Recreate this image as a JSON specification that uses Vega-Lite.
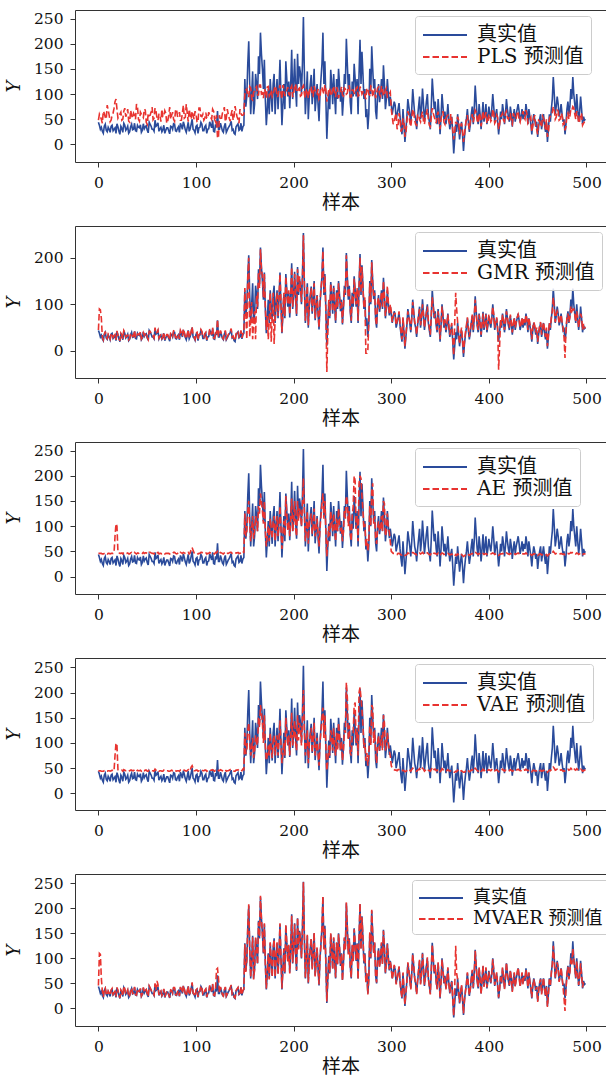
{
"$schema": "https://vega.github.io/schema/vega-lite/v6.json",
"background": "white",
"padding": {"left": 5, "top": 10, "right": 0, "bottom": 0},
"spacing": 64,
"bounds": "flush",
"resolve": {"scale": {"color": "independent", "strokeDash": "independent"}, "legend": {"color": "independent", "strokeDash": "independent"}},
"config": {
  "view": {"stroke": null},
  "axis": {"grid": false, "domainColor": "#333333", "tickColor": "#333333", "tickSize": 5, "labelFont": "DejaVu Serif", "labelFontSize": 15.5, "labelColor": "#111111", "labelPadding": 7, "titleColor": "#111111", "titleFontWeight": "normal"},
  "axisX": {"titleFont": "Noto Sans CJK SC", "titleFontSize": 19, "titlePadding": 3, "labelPadding": 8},
  "axisY": {"titleFont": "DejaVu Serif", "titleFontStyle": "italic", "titleFontSize": 18, "titlePadding": 10},
  "legend": {"orient": "none", "labelFont": "DejaVu Serif, Noto Sans CJK SC", "labelFontSize": 20, "labelColor": "#111111", "symbolType": "M-1,0H3", "symbolStrokeWidth": 2, "symbolSize": 484, "fillColor": "rgba(255,255,255,0.85)", "strokeColor": "#cccccc", "cornerRadius": 3, "padding": 7, "rowPadding": 0, "labelOffset": 31, "labelLimit": 400}
},
"datasets": {"d": [
{"x":0,"t":44,"p":48,"g":45,"a":46,"v":44,"m":46},
{"x":1,"t":38,"p":60,"g":90,"a":46,"v":45,"m":110},
{"x":2,"t":30,"p":55,"g":88,"a":46,"v":45,"m":108},
{"x":3,"t":34,"p":50,"g":70,"a":46,"v":44,"m":60},
{"x":4,"t":26,"p":42,"g":30,"a":45,"v":44,"m":35},
{"x":5,"t":22,"p":66,"g":24,"a":45,"v":44,"m":23},
{"x":6,"t":36,"p":62,"g":34,"a":46,"v":45,"m":38},
{"x":7,"t":40,"p":54,"g":42,"a":47,"v":46,"m":41},
{"x":8,"t":28,"p":50,"g":31,"a":47,"v":44,"m":30},
{"x":9,"t":25,"p":78,"g":27,"a":45,"v":44,"m":26},
{"x":10,"t":34,"p":68,"g":36,"a":46,"v":45,"m":35},
{"x":11,"t":30,"p":58,"g":32,"a":46,"v":45,"m":31},
{"x":12,"t":24,"p":45,"g":26,"a":45,"v":44,"m":26},
{"x":13,"t":36,"p":48,"g":38,"a":46,"v":45,"m":37},
{"x":14,"t":38,"p":58,"g":36,"a":46,"v":46,"m":40},
{"x":15,"t":27,"p":62,"g":29,"a":46,"v":44,"m":28},
{"x":16,"t":30,"p":72,"g":32,"a":47,"v":45,"m":31},
{"x":17,"t":33,"p":85,"g":35,"a":80,"v":75,"m":34},
{"x":18,"t":22,"p":90,"g":24,"a":105,"v":100,"m":24},
{"x":19,"t":41,"p":70,"g":43,"a":100,"v":95,"m":42},
{"x":20,"t":35,"p":52,"g":33,"a":48,"v":47,"m":36},
{"x":21,"t":26,"p":56,"g":28,"a":47,"v":46,"m":27},
{"x":22,"t":20,"p":60,"g":22,"a":46,"v":45,"m":21},
{"x":23,"t":36,"p":64,"g":38,"a":46,"v":45,"m":37},
{"x":24,"t":32,"p":48,"g":34,"a":47,"v":46,"m":33},
{"x":25,"t":24,"p":50,"g":26,"a":45,"v":44,"m":25},
{"x":26,"t":42,"p":66,"g":44,"a":48,"v":47,"m":45},
{"x":27,"t":38,"p":72,"g":40,"a":47,"v":46,"m":39},
{"x":28,"t":28,"p":55,"g":30,"a":46,"v":45,"m":29},
{"x":29,"t":31,"p":60,"g":33,"a":46,"v":45,"m":32},
{"x":30,"t":36,"p":70,"g":34,"a":47,"v":46,"m":37},
{"x":31,"t":22,"p":46,"g":24,"a":45,"v":44,"m":23},
{"x":32,"t":25,"p":44,"g":27,"a":45,"v":45,"m":26},
{"x":33,"t":35,"p":68,"g":37,"a":47,"v":46,"m":36},
{"x":34,"t":40,"p":58,"g":38,"a":48,"v":46,"m":41},
{"x":35,"t":29,"p":52,"g":31,"a":46,"v":45,"m":30},
{"x":36,"t":30,"p":62,"g":32,"a":46,"v":45,"m":31},
{"x":37,"t":42,"p":58,"g":44,"a":48,"v":47,"m":43},
{"x":38,"t":27,"p":50,"g":29,"a":46,"v":44,"m":28},
{"x":39,"t":26,"p":80,"g":28,"a":45,"v":44,"m":27},
{"x":40,"t":38,"p":75,"g":36,"a":47,"v":46,"m":39},
{"x":41,"t":34,"p":50,"g":36,"a":46,"v":45,"m":35},
{"x":42,"t":33,"p":46,"g":35,"a":47,"v":45,"m":34},
{"x":43,"t":39,"p":64,"g":41,"a":47,"v":46,"m":40},
{"x":44,"t":24,"p":60,"g":26,"a":45,"v":44,"m":25},
{"x":45,"t":28,"p":56,"g":30,"a":46,"v":45,"m":29},
{"x":46,"t":41,"p":53,"g":39,"a":48,"v":47,"m":42},
{"x":47,"t":31,"p":70,"g":33,"a":46,"v":45,"m":32},
{"x":48,"t":35,"p":68,"g":37,"a":47,"v":46,"m":36},
{"x":49,"t":37,"p":44,"g":39,"a":47,"v":46,"m":38},
{"x":50,"t":28,"p":40,"g":30,"a":46,"v":44,"m":29},
{"x":51,"t":23,"p":62,"g":25,"a":45,"v":44,"m":24},
{"x":52,"t":44,"p":57,"g":42,"a":48,"v":47,"m":45},
{"x":53,"t":40,"p":58,"g":42,"a":48,"v":47,"m":41},
{"x":54,"t":36,"p":65,"g":38,"a":47,"v":46,"m":37},
{"x":55,"t":30,"p":74,"g":32,"a":46,"v":45,"m":31},
{"x":56,"t":30,"p":49,"g":32,"a":46,"v":45,"m":31},
{"x":57,"t":26,"p":52,"g":28,"a":45,"v":44,"m":27},
{"x":58,"t":48,"p":72,"g":50,"a":49,"v":48,"m":50},
{"x":59,"t":36,"p":66,"g":38,"a":47,"v":46,"m":37},
{"x":60,"t":38,"p":52,"g":40,"a":47,"v":46,"m":55},
{"x":61,"t":43,"p":48,"g":45,"a":48,"v":47,"m":48},
{"x":62,"t":26,"p":60,"g":28,"a":45,"v":44,"m":27},
{"x":63,"t":31,"p":60,"g":33,"a":46,"v":45,"m":32},
{"x":64,"t":34,"p":45,"g":36,"a":46,"v":45,"m":35},
{"x":65,"t":25,"p":70,"g":27,"a":45,"v":44,"m":26},
{"x":66,"t":29,"p":55,"g":31,"a":46,"v":44,"m":30},
{"x":67,"t":38,"p":55,"g":40,"a":47,"v":46,"m":39},
{"x":68,"t":22,"p":67,"g":24,"a":45,"v":44,"m":23},
{"x":69,"t":28,"p":62,"g":30,"a":46,"v":45,"m":29},
{"x":70,"t":33,"p":42,"g":35,"a":46,"v":45,"m":34},
{"x":71,"t":33,"p":46,"g":35,"a":46,"v":45,"m":34},
{"x":72,"t":27,"p":58,"g":29,"a":46,"v":44,"m":28},
{"x":73,"t":21,"p":74,"g":23,"a":45,"v":44,"m":22},
{"x":74,"t":36,"p":50,"g":38,"a":47,"v":45,"m":37},
{"x":75,"t":35,"p":58,"g":37,"a":47,"v":46,"m":36},
{"x":76,"t":30,"p":64,"g":32,"a":46,"v":45,"m":31},
{"x":77,"t":41,"p":50,"g":43,"a":48,"v":47,"m":42},
{"x":78,"t":40,"p":46,"g":42,"a":48,"v":46,"m":42},
{"x":79,"t":27,"p":68,"g":29,"a":46,"v":45,"m":28},
{"x":80,"t":26,"p":70,"g":28,"a":45,"v":44,"m":27},
{"x":81,"t":32,"p":56,"g":34,"a":46,"v":45,"m":33},
{"x":82,"t":35,"p":55,"g":37,"a":47,"v":45,"m":36},
{"x":83,"t":24,"p":64,"g":26,"a":45,"v":44,"m":25},
{"x":84,"t":42,"p":48,"g":44,"a":48,"v":46,"m":43},
{"x":85,"t":37,"p":48,"g":39,"a":47,"v":46,"m":38},
{"x":86,"t":30,"p":62,"g":32,"a":46,"v":45,"m":31},
{"x":87,"t":45,"p":78,"g":47,"a":48,"v":47,"m":46},
{"x":88,"t":38,"p":52,"g":40,"a":47,"v":46,"m":39},
{"x":89,"t":29,"p":54,"g":31,"a":46,"v":45,"m":30},
{"x":90,"t":24,"p":80,"g":26,"a":45,"v":44,"m":25},
{"x":91,"t":34,"p":62,"g":36,"a":46,"v":45,"m":35},
{"x":92,"t":44,"p":45,"g":46,"a":48,"v":47,"m":45},
{"x":93,"t":26,"p":70,"g":28,"a":45,"v":44,"m":27},
{"x":94,"t":31,"p":58,"g":33,"a":47,"v":46,"m":32},
{"x":95,"t":40,"p":50,"g":42,"a":55,"v":52,"m":41},
{"x":96,"t":50,"p":66,"g":52,"a":58,"v":55,"m":52},
{"x":97,"t":30,"p":58,"g":32,"a":52,"v":50,"m":31},
{"x":98,"t":28,"p":50,"g":30,"a":47,"v":45,"m":29},
{"x":99,"t":23,"p":66,"g":25,"a":46,"v":45,"m":24},
{"x":100,"t":36,"p":60,"g":38,"a":47,"v":46,"m":37},
{"x":101,"t":38,"p":45,"g":40,"a":47,"v":46,"m":39},
{"x":102,"t":22,"p":44,"g":24,"a":45,"v":44,"m":23},
{"x":103,"t":33,"p":72,"g":35,"a":46,"v":45,"m":34},
{"x":104,"t":34,"p":72,"g":36,"a":46,"v":45,"m":35},
{"x":105,"t":44,"p":56,"g":46,"a":48,"v":47,"m":45},
{"x":106,"t":40,"p":55,"g":42,"a":48,"v":46,"m":41},
{"x":107,"t":27,"p":60,"g":29,"a":46,"v":45,"m":28},
{"x":108,"t":27,"p":48,"g":29,"a":46,"v":45,"m":28},
{"x":109,"t":35,"p":52,"g":37,"a":47,"v":46,"m":36},
{"x":110,"t":38,"p":63,"g":40,"a":47,"v":46,"m":39},
{"x":111,"t":22,"p":52,"g":24,"a":45,"v":44,"m":23},
{"x":112,"t":30,"p":52,"g":32,"a":46,"v":45,"m":31},
{"x":113,"t":31,"p":64,"g":33,"a":46,"v":45,"m":32},
{"x":114,"t":45,"p":58,"g":47,"a":48,"v":47,"m":46},
{"x":115,"t":39,"p":54,"g":41,"a":47,"v":46,"m":40},
{"x":116,"t":33,"p":50,"g":35,"a":47,"v":46,"m":34},
{"x":117,"t":48,"p":70,"g":50,"a":48,"v":47,"m":49},
{"x":118,"t":26,"p":66,"g":28,"a":46,"v":45,"m":27},
{"x":119,"t":25,"p":50,"g":27,"a":45,"v":44,"m":26},
{"x":120,"t":40,"p":45,"g":42,"a":48,"v":46,"m":41},
{"x":121,"t":34,"p":58,"g":36,"a":47,"v":46,"m":78},
{"x":122,"t":66,"p":12,"g":68,"a":50,"v":48,"m":80},
{"x":123,"t":30,"p":15,"g":32,"a":46,"v":45,"m":60},
{"x":124,"t":30,"p":58,"g":32,"a":46,"v":45,"m":31},
{"x":125,"t":42,"p":48,"g":44,"a":48,"v":47,"m":43},
{"x":126,"t":35,"p":50,"g":37,"a":47,"v":46,"m":36},
{"x":127,"t":27,"p":62,"g":29,"a":46,"v":45,"m":28},
{"x":128,"t":24,"p":66,"g":26,"a":45,"v":44,"m":25},
{"x":129,"t":36,"p":74,"g":38,"a":47,"v":46,"m":37},
{"x":130,"t":42,"p":45,"g":44,"a":48,"v":47,"m":43},
{"x":131,"t":24,"p":52,"g":26,"a":45,"v":44,"m":25},
{"x":132,"t":28,"p":70,"g":30,"a":46,"v":45,"m":29},
{"x":133,"t":33,"p":60,"g":35,"a":46,"v":45,"m":34},
{"x":134,"t":36,"p":52,"g":38,"a":47,"v":46,"m":37},
{"x":135,"t":40,"p":46,"g":42,"a":48,"v":47,"m":41},
{"x":136,"t":46,"p":60,"g":48,"a":48,"v":47,"m":47},
{"x":137,"t":28,"p":68,"g":30,"a":46,"v":45,"m":29},
{"x":138,"t":30,"p":48,"g":32,"a":46,"v":45,"m":31},
{"x":139,"t":22,"p":56,"g":24,"a":45,"v":44,"m":23},
{"x":140,"t":20,"p":76,"g":22,"a":45,"v":44,"m":21},
{"x":141,"t":35,"p":64,"g":37,"a":47,"v":46,"m":36},
{"x":142,"t":38,"p":55,"g":40,"a":47,"v":46,"m":39},
{"x":143,"t":41,"p":50,"g":43,"a":48,"v":47,"m":42},
{"x":144,"t":28,"p":42,"g":30,"a":46,"v":45,"m":29},
{"x":145,"t":30,"p":70,"g":32,"a":46,"v":45,"m":31},
{"x":146,"t":42,"p":62,"g":44,"a":48,"v":47,"m":43},
{"x":147,"t":26,"p":58,"g":28,"a":46,"v":45,"m":27},
{"x":148,"t":35,"p":58,"g":37,"a":48,"v":48,"m":36},
{"x":149,"t":38,"p":60,"g":40,"a":48,"v":47,"m":39},
{"x":150,"t":130,"p":100,"g":135,"a":125,"v":120,"m":128},
{"x":151,"t":75,"p":108,"g":80,"a":80,"v":78,"m":73},
{"x":152,"t":95,"p":110,"g":25,"a":90,"v":85,"m":98},
{"x":153,"t":160,"p":95,"g":155,"a":130,"v":125,"m":162},
{"x":154,"t":205,"p":95,"g":200,"a":150,"v":140,"m":208},
{"x":155,"t":120,"p":115,"g":30,"a":105,"v":100,"m":118},
{"x":156,"t":60,"p":112,"g":65,"a":70,"v":75,"m":62},
{"x":157,"t":100,"p":90,"g":105,"a":95,"v":90,"m":102},
{"x":158,"t":145,"p":88,"g":25,"a":120,"v":110,"m":142},
{"x":159,"t":60,"p":104,"g":65,"a":75,"v":70,"m":58},
{"x":160,"t":80,"p":105,"g":85,"a":90,"v":85,"m":78},
{"x":161,"t":140,"p":112,"g":25,"a":120,"v":115,"m":142},
{"x":162,"t":120,"p":115,"g":120,"a":110,"v":100,"m":118},
{"x":163,"t":90,"p":98,"g":95,"a":90,"v":95,"m":88},
{"x":164,"t":175,"p":98,"g":170,"a":140,"v":150,"m":172},
{"x":165,"t":140,"p":118,"g":135,"a":125,"v":130,"m":142},
{"x":166,"t":222,"p":118,"g":218,"a":165,"v":175,"m":225},
{"x":167,"t":180,"p":100,"g":175,"a":150,"v":160,"m":178},
{"x":168,"t":150,"p":102,"g":160,"a":130,"v":140,"m":148},
{"x":169,"t":110,"p":92,"g":115,"a":105,"v":100,"m":112},
{"x":170,"t":168,"p":110,"g":165,"a":150,"v":155,"m":170},
{"x":171,"t":90,"p":106,"g":95,"a":90,"v":95,"m":88},
{"x":172,"t":38,"p":92,"g":45,"a":60,"v":65,"m":40},
{"x":173,"t":70,"p":114,"g":75,"a":80,"v":75,"m":72},
{"x":174,"t":110,"p":115,"g":25,"a":100,"v":95,"m":108},
{"x":175,"t":60,"p":96,"g":65,"a":70,"v":75,"m":58},
{"x":176,"t":130,"p":100,"g":125,"a":115,"v":120,"m":132},
{"x":177,"t":95,"p":108,"g":20,"a":95,"v":90,"m":97},
{"x":178,"t":65,"p":95,"g":70,"a":75,"v":70,"m":63},
{"x":179,"t":120,"p":100,"g":125,"a":110,"v":105,"m":118},
{"x":180,"t":140,"p":108,"g":15,"a":120,"v":115,"m":138},
{"x":181,"t":60,"p":116,"g":65,"a":70,"v":75,"m":62},
{"x":182,"t":100,"p":112,"g":105,"a":95,"v":100,"m":102},
{"x":183,"t":130,"p":94,"g":125,"a":120,"v":115,"m":132},
{"x":184,"t":70,"p":96,"g":75,"a":80,"v":75,"m":68},
{"x":185,"t":110,"p":110,"g":115,"a":100,"v":105,"m":108},
{"x":186,"t":168,"p":118,"g":165,"a":140,"v":145,"m":170},
{"x":187,"t":100,"p":102,"g":105,"a":95,"v":100,"m":102},
{"x":188,"t":38,"p":90,"g":40,"a":55,"v":60,"m":40},
{"x":189,"t":80,"p":118,"g":85,"a":85,"v":80,"m":78},
{"x":190,"t":120,"p":110,"g":125,"a":110,"v":100,"m":118},
{"x":191,"t":70,"p":96,"g":75,"a":80,"v":75,"m":72},
{"x":192,"t":165,"p":104,"g":160,"a":160,"v":150,"m":168},
{"x":193,"t":130,"p":108,"g":125,"a":125,"v":120,"m":128},
{"x":194,"t":95,"p":114,"g":100,"a":90,"v":95,"m":93},
{"x":195,"t":125,"p":100,"g":130,"a":110,"v":115,"m":127},
{"x":196,"t":72,"p":98,"g":78,"a":80,"v":75,"m":70},
{"x":197,"t":120,"p":112,"g":115,"a":115,"v":110,"m":118},
{"x":198,"t":188,"p":116,"g":180,"a":155,"v":160,"m":185},
{"x":199,"t":90,"p":94,"g":95,"a":90,"v":95,"m":92},
{"x":200,"t":120,"p":102,"g":125,"a":110,"v":115,"m":122},
{"x":201,"t":170,"p":116,"g":165,"a":150,"v":145,"m":168},
{"x":202,"t":110,"p":120,"g":115,"a":95,"v":100,"m":108},
{"x":203,"t":75,"p":104,"g":80,"a":80,"v":85,"m":77},
{"x":204,"t":180,"p":105,"g":175,"a":150,"v":155,"m":182},
{"x":205,"t":120,"p":110,"g":125,"a":110,"v":105,"m":118},
{"x":206,"t":155,"p":112,"g":160,"a":135,"v":140,"m":152},
{"x":207,"t":140,"p":96,"g":135,"a":125,"v":130,"m":142},
{"x":208,"t":100,"p":98,"g":105,"a":100,"v":95,"m":102},
{"x":209,"t":160,"p":114,"g":155,"a":145,"v":150,"m":158},
{"x":210,"t":253,"p":117,"g":248,"a":195,"v":205,"m":252},
{"x":211,"t":140,"p":100,"g":145,"a":125,"v":120,"m":142},
{"x":212,"t":60,"p":92,"g":65,"a":70,"v":75,"m":62},
{"x":213,"t":100,"p":108,"g":105,"a":95,"v":100,"m":98},
{"x":214,"t":145,"p":110,"g":140,"a":130,"v":125,"m":147},
{"x":215,"t":50,"p":92,"g":55,"a":65,"v":60,"m":52},
{"x":216,"t":95,"p":104,"g":100,"a":110,"v":100,"m":93},
{"x":217,"t":120,"p":112,"g":115,"a":110,"v":115,"m":122},
{"x":218,"t":138,"p":115,"g":135,"a":125,"v":130,"m":140},
{"x":219,"t":80,"p":98,"g":85,"a":85,"v":80,"m":78},
{"x":220,"t":110,"p":96,"g":115,"a":100,"v":105,"m":108},
{"x":221,"t":150,"p":116,"g":145,"a":135,"v":140,"m":152},
{"x":222,"t":66,"p":108,"g":70,"a":80,"v":75,"m":64},
{"x":223,"t":90,"p":102,"g":95,"a":90,"v":85,"m":92},
{"x":224,"t":120,"p":100,"g":118,"a":115,"v":110,"m":122},
{"x":225,"t":80,"p":110,"g":85,"a":85,"v":80,"m":78},
{"x":226,"t":46,"p":90,"g":50,"a":60,"v":55,"m":48},
{"x":227,"t":100,"p":94,"g":105,"a":95,"v":100,"m":102},
{"x":228,"t":130,"p":112,"g":135,"a":120,"v":125,"m":128},
{"x":229,"t":160,"p":114,"g":155,"a":145,"v":150,"m":162},
{"x":230,"t":222,"p":106,"g":215,"a":165,"v":170,"m":225},
{"x":231,"t":120,"p":100,"g":125,"a":115,"v":110,"m":118},
{"x":232,"t":165,"p":118,"g":160,"a":150,"v":155,"m":162},
{"x":233,"t":90,"p":108,"g":85,"a":90,"v":95,"m":92},
{"x":234,"t":11,"p":85,"g":-45,"a":40,"v":45,"m":14},
{"x":235,"t":60,"p":96,"g":40,"a":70,"v":65,"m":58},
{"x":236,"t":105,"p":110,"g":110,"a":100,"v":95,"m":103},
{"x":237,"t":70,"p":112,"g":75,"a":80,"v":75,"m":72},
{"x":238,"t":148,"p":96,"g":145,"a":130,"v":125,"m":150},
{"x":239,"t":120,"p":100,"g":115,"a":110,"v":115,"m":118},
{"x":240,"t":80,"p":108,"g":85,"a":90,"v":85,"m":78},
{"x":241,"t":140,"p":116,"g":135,"a":125,"v":130,"m":142},
{"x":242,"t":97,"p":100,"g":100,"a":95,"v":90,"m":95},
{"x":243,"t":60,"p":94,"g":65,"a":70,"v":75,"m":62},
{"x":244,"t":130,"p":114,"g":125,"a":115,"v":120,"m":132},
{"x":245,"t":90,"p":108,"g":95,"a":90,"v":85,"m":88},
{"x":246,"t":150,"p":92,"g":145,"a":135,"v":140,"m":148},
{"x":247,"t":120,"p":102,"g":115,"a":110,"v":115,"m":122},
{"x":248,"t":85,"p":105,"g":90,"a":90,"v":85,"m":87},
{"x":249,"t":110,"p":114,"g":105,"a":100,"v":105,"m":108},
{"x":250,"t":57,"p":98,"g":60,"a":70,"v":65,"m":55},
{"x":251,"t":90,"p":96,"g":95,"a":90,"v":85,"m":92},
{"x":252,"t":140,"p":112,"g":135,"a":130,"v":125,"m":142},
{"x":253,"t":120,"p":110,"g":125,"a":115,"v":120,"m":118},
{"x":254,"t":210,"p":100,"g":205,"a":160,"v":220,"m":212},
{"x":255,"t":160,"p":102,"g":155,"a":150,"v":190,"m":162},
{"x":256,"t":110,"p":116,"g":115,"a":100,"v":105,"m":108},
{"x":257,"t":140,"p":116,"g":135,"a":130,"v":135,"m":138},
{"x":258,"t":84,"p":94,"g":90,"a":85,"v":80,"m":82},
{"x":259,"t":60,"p":94,"g":65,"a":70,"v":75,"m":62},
{"x":260,"t":125,"p":108,"g":120,"a":120,"v":115,"m":127},
{"x":261,"t":95,"p":108,"g":100,"a":140,"v":120,"m":93},
{"x":262,"t":160,"p":102,"g":155,"a":200,"v":175,"m":158},
{"x":263,"t":130,"p":100,"g":125,"a":190,"v":180,"m":132},
{"x":264,"t":95,"p":112,"g":100,"a":95,"v":100,"m":97},
{"x":265,"t":130,"p":114,"g":135,"a":120,"v":125,"m":128},
{"x":266,"t":60,"p":96,"g":65,"a":70,"v":75,"m":58},
{"x":267,"t":140,"p":98,"g":135,"a":185,"v":200,"m":142},
{"x":268,"t":208,"p":115,"g":200,"a":200,"v":210,"m":210},
{"x":269,"t":120,"p":110,"g":125,"a":195,"v":190,"m":118},
{"x":270,"t":184,"p":100,"g":180,"a":160,"v":165,"m":182},
{"x":271,"t":140,"p":104,"g":135,"a":130,"v":135,"m":142},
{"x":272,"t":90,"p":106,"g":95,"a":95,"v":90,"m":92},
{"x":273,"t":110,"p":96,"g":115,"a":105,"v":100,"m":108},
{"x":274,"t":54,"p":90,"g":-5,"a":60,"v":65,"m":52},
{"x":275,"t":70,"p":112,"g":-5,"a":75,"v":80,"m":72},
{"x":276,"t":30,"p":110,"g":0,"a":50,"v":55,"m":28},
{"x":277,"t":60,"p":100,"g":65,"a":70,"v":75,"m":58},
{"x":278,"t":150,"p":98,"g":145,"a":140,"v":135,"m":152},
{"x":279,"t":100,"p":116,"g":105,"a":100,"v":95,"m":102},
{"x":280,"t":195,"p":114,"g":190,"a":170,"v":175,"m":197},
{"x":281,"t":150,"p":94,"g":145,"a":185,"v":170,"m":148},
{"x":282,"t":111,"p":104,"g":115,"a":105,"v":100,"m":109},
{"x":283,"t":130,"p":108,"g":125,"a":120,"v":125,"m":132},
{"x":284,"t":66,"p":92,"g":70,"a":75,"v":80,"m":64},
{"x":285,"t":50,"p":102,"g":55,"a":65,"v":60,"m":52},
{"x":286,"t":100,"p":112,"g":105,"a":95,"v":100,"m":102},
{"x":287,"t":120,"p":114,"g":115,"a":110,"v":115,"m":118},
{"x":288,"t":84,"p":100,"g":90,"a":90,"v":85,"m":82},
{"x":289,"t":100,"p":96,"g":105,"a":95,"v":100,"m":102},
{"x":290,"t":130,"p":116,"g":125,"a":120,"v":115,"m":132},
{"x":291,"t":90,"p":110,"g":95,"a":90,"v":85,"m":88},
{"x":292,"t":157,"p":96,"g":150,"a":150,"v":155,"m":155},
{"x":293,"t":120,"p":100,"g":115,"a":145,"v":140,"m":122},
{"x":294,"t":70,"p":108,"g":75,"a":80,"v":85,"m":72},
{"x":295,"t":90,"p":112,"g":95,"a":90,"v":95,"m":88},
{"x":296,"t":130,"p":94,"g":140,"a":125,"v":120,"m":128},
{"x":297,"t":100,"p":96,"g":105,"a":95,"v":100,"m":102},
{"x":298,"t":76,"p":100,"g":80,"a":90,"v":85,"m":78},
{"x":299,"t":95,"p":104,"g":100,"a":70,"v":75,"m":93},
{"x":300,"t":80,"p":70,"g":85,"a":50,"v":55,"m":82},
{"x":301,"t":60,"p":55,"g":62,"a":48,"v":50,"m":58},
{"x":302,"t":72,"p":40,"g":75,"a":46,"v":48,"m":70},
{"x":303,"t":85,"p":45,"g":80,"a":46,"v":47,"m":87},
{"x":304,"t":78,"p":55,"g":80,"a":45,"v":46,"m":80},
{"x":305,"t":50,"p":62,"g":55,"a":45,"v":46,"m":48},
{"x":306,"t":60,"p":30,"g":65,"a":44,"v":45,"m":58},
{"x":307,"t":70,"p":38,"g":72,"a":46,"v":47,"m":72},
{"x":308,"t":82,"p":62,"g":85,"a":46,"v":47,"m":84},
{"x":309,"t":55,"p":50,"g":58,"a":45,"v":46,"m":53},
{"x":310,"t":35,"p":25,"g":40,"a":43,"v":44,"m":33},
{"x":311,"t":20,"p":30,"g":25,"a":43,"v":44,"m":22},
{"x":312,"t":70,"p":50,"g":72,"a":45,"v":46,"m":72},
{"x":313,"t":40,"p":48,"g":45,"a":44,"v":45,"m":38},
{"x":314,"t":5,"p":15,"g":10,"a":42,"v":43,"m":8},
{"x":315,"t":30,"p":22,"g":35,"a":43,"v":44,"m":32},
{"x":316,"t":55,"p":45,"g":58,"a":44,"v":45,"m":53},
{"x":317,"t":90,"p":66,"g":85,"a":47,"v":48,"m":92},
{"x":318,"t":75,"p":60,"g":70,"a":46,"v":47,"m":77},
{"x":319,"t":60,"p":44,"g":62,"a":45,"v":46,"m":58},
{"x":320,"t":40,"p":35,"g":45,"a":44,"v":44,"m":38},
{"x":321,"t":70,"p":52,"g":72,"a":46,"v":47,"m":72},
{"x":322,"t":110,"p":70,"g":105,"a":48,"v":50,"m":108},
{"x":323,"t":85,"p":64,"g":80,"a":47,"v":48,"m":87},
{"x":324,"t":60,"p":48,"g":62,"a":45,"v":46,"m":62},
{"x":325,"t":50,"p":40,"g":55,"a":45,"v":45,"m":48},
{"x":326,"t":30,"p":38,"g":35,"a":43,"v":44,"m":28},
{"x":327,"t":55,"p":60,"g":58,"a":45,"v":46,"m":57},
{"x":328,"t":75,"p":58,"g":78,"a":46,"v":47,"m":77},
{"x":329,"t":95,"p":50,"g":90,"a":47,"v":49,"m":97},
{"x":330,"t":50,"p":45,"g":55,"a":45,"v":45,"m":48},
{"x":331,"t":70,"p":58,"g":72,"a":46,"v":47,"m":68},
{"x":332,"t":111,"p":65,"g":100,"a":48,"v":50,"m":109},
{"x":333,"t":80,"p":46,"g":78,"a":46,"v":48,"m":82},
{"x":334,"t":45,"p":40,"g":50,"a":44,"v":44,"m":47},
{"x":335,"t":65,"p":56,"g":68,"a":45,"v":46,"m":63},
{"x":336,"t":85,"p":62,"g":80,"a":47,"v":48,"m":83},
{"x":337,"t":100,"p":70,"g":95,"a":47,"v":49,"m":102},
{"x":338,"t":60,"p":50,"g":65,"a":45,"v":46,"m":62},
{"x":339,"t":45,"p":38,"g":50,"a":44,"v":45,"m":43},
{"x":340,"t":30,"p":35,"g":35,"a":43,"v":44,"m":28},
{"x":341,"t":75,"p":54,"g":78,"a":46,"v":47,"m":77},
{"x":342,"t":131,"p":72,"g":115,"a":49,"v":52,"m":128},
{"x":343,"t":100,"p":62,"g":95,"a":47,"v":49,"m":98},
{"x":344,"t":70,"p":55,"g":72,"a":46,"v":47,"m":72},
{"x":345,"t":85,"p":48,"g":80,"a":46,"v":48,"m":87},
{"x":346,"t":55,"p":42,"g":58,"a":45,"v":45,"m":53},
{"x":347,"t":40,"p":58,"g":45,"a":44,"v":45,"m":38},
{"x":348,"t":90,"p":65,"g":85,"a":47,"v":48,"m":92},
{"x":349,"t":60,"p":42,"g":62,"a":45,"v":46,"m":62},
{"x":350,"t":20,"p":30,"g":25,"a":42,"v":43,"m":22},
{"x":351,"t":55,"p":50,"g":58,"a":45,"v":45,"m":53},
{"x":352,"t":100,"p":60,"g":95,"a":47,"v":49,"m":98},
{"x":353,"t":75,"p":66,"g":78,"a":46,"v":47,"m":77},
{"x":354,"t":50,"p":44,"g":55,"a":44,"v":45,"m":52},
{"x":355,"t":65,"p":40,"g":68,"a":45,"v":46,"m":63},
{"x":356,"t":40,"p":52,"g":45,"a":44,"v":44,"m":38},
{"x":357,"t":55,"p":56,"g":58,"a":45,"v":45,"m":57},
{"x":358,"t":80,"p":58,"g":78,"a":46,"v":47,"m":82},
{"x":359,"t":50,"p":46,"g":55,"a":45,"v":45,"m":48},
{"x":360,"t":30,"p":40,"g":35,"a":43,"v":44,"m":32},
{"x":361,"t":45,"p":60,"g":50,"a":44,"v":45,"m":47},
{"x":362,"t":55,"p":50,"g":60,"a":45,"v":45,"m":53},
{"x":363,"t":20,"p":30,"g":25,"a":42,"v":43,"m":18},
{"x":364,"t":-18,"p":10,"g":-10,"a":40,"v":42,"m":-15},
{"x":365,"t":10,"p":25,"g":60,"a":41,"v":42,"m":40},
{"x":366,"t":40,"p":45,"g":125,"a":44,"v":44,"m":125},
{"x":367,"t":25,"p":40,"g":90,"a":42,"v":43,"m":70},
{"x":368,"t":60,"p":55,"g":62,"a":45,"v":46,"m":58},
{"x":369,"t":35,"p":48,"g":40,"a":43,"v":44,"m":33},
{"x":370,"t":10,"p":20,"g":15,"a":41,"v":42,"m":12},
{"x":371,"t":30,"p":35,"g":35,"a":43,"v":44,"m":32},
{"x":372,"t":45,"p":42,"g":50,"a":44,"v":45,"m":47},
{"x":373,"t":20,"p":28,"g":25,"a":42,"v":43,"m":18},
{"x":374,"t":-13,"p":5,"g":-5,"a":40,"v":42,"m":-10},
{"x":375,"t":15,"p":20,"g":20,"a":41,"v":42,"m":17},
{"x":376,"t":35,"p":38,"g":40,"a":43,"v":44,"m":33},
{"x":377,"t":50,"p":52,"g":55,"a":45,"v":45,"m":48},
{"x":378,"t":70,"p":58,"g":72,"a":46,"v":47,"m":72},
{"x":379,"t":45,"p":40,"g":50,"a":44,"v":45,"m":47},
{"x":380,"t":25,"p":30,"g":30,"a":42,"v":43,"m":27},
{"x":381,"t":40,"p":48,"g":45,"a":44,"v":44,"m":38},
{"x":382,"t":60,"p":52,"g":62,"a":45,"v":46,"m":58},
{"x":383,"t":75,"p":60,"g":78,"a":46,"v":47,"m":77},
{"x":384,"t":40,"p":44,"g":45,"a":44,"v":44,"m":42},
{"x":385,"t":70,"p":54,"g":72,"a":46,"v":47,"m":68},
{"x":386,"t":117,"p":68,"g":110,"a":48,"v":50,"m":115},
{"x":387,"t":85,"p":64,"g":80,"a":47,"v":48,"m":87},
{"x":388,"t":55,"p":48,"g":58,"a":45,"v":45,"m":57},
{"x":389,"t":40,"p":42,"g":45,"a":44,"v":44,"m":42},
{"x":390,"t":80,"p":62,"g":78,"a":46,"v":47,"m":82},
{"x":391,"t":60,"p":56,"g":62,"a":45,"v":46,"m":58},
{"x":392,"t":30,"p":36,"g":35,"a":43,"v":44,"m":28},
{"x":393,"t":55,"p":48,"g":58,"a":45,"v":45,"m":57},
{"x":394,"t":84,"p":66,"g":80,"a":46,"v":48,"m":86},
{"x":395,"t":45,"p":52,"g":50,"a":44,"v":45,"m":43},
{"x":396,"t":60,"p":50,"g":62,"a":45,"v":46,"m":58},
{"x":397,"t":80,"p":64,"g":78,"a":46,"v":47,"m":82},
{"x":398,"t":40,"p":42,"g":45,"a":44,"v":44,"m":42},
{"x":399,"t":55,"p":44,"g":58,"a":45,"v":46,"m":53},
{"x":400,"t":75,"p":60,"g":78,"a":46,"v":47,"m":73},
{"x":401,"t":60,"p":56,"g":62,"a":45,"v":46,"m":62},
{"x":402,"t":50,"p":46,"g":55,"a":45,"v":45,"m":52},
{"x":403,"t":70,"p":50,"g":72,"a":46,"v":47,"m":68},
{"x":404,"t":100,"p":70,"g":95,"a":47,"v":49,"m":98},
{"x":405,"t":75,"p":62,"g":78,"a":46,"v":47,"m":77},
{"x":406,"t":45,"p":42,"g":50,"a":44,"v":45,"m":47},
{"x":407,"t":60,"p":46,"g":62,"a":45,"v":46,"m":58},
{"x":408,"t":70,"p":58,"g":72,"a":46,"v":47,"m":72},
{"x":409,"t":45,"p":54,"g":50,"a":44,"v":45,"m":47},
{"x":410,"t":20,"p":30,"g":-40,"a":42,"v":43,"m":22},
{"x":411,"t":40,"p":40,"g":10,"a":44,"v":44,"m":38},
{"x":412,"t":65,"p":55,"g":68,"a":45,"v":46,"m":63},
{"x":413,"t":50,"p":58,"g":55,"a":45,"v":45,"m":52},
{"x":414,"t":80,"p":62,"g":78,"a":46,"v":48,"m":82},
{"x":415,"t":65,"p":48,"g":68,"a":45,"v":46,"m":63},
{"x":416,"t":40,"p":45,"g":45,"a":44,"v":44,"m":38},
{"x":417,"t":60,"p":62,"g":62,"a":45,"v":46,"m":62},
{"x":418,"t":90,"p":66,"g":85,"a":47,"v":48,"m":92},
{"x":419,"t":70,"p":52,"g":72,"a":46,"v":47,"m":68},
{"x":420,"t":55,"p":50,"g":58,"a":45,"v":46,"m":53},
{"x":421,"t":45,"p":58,"g":50,"a":44,"v":45,"m":47},
{"x":422,"t":75,"p":60,"g":78,"a":46,"v":47,"m":77},
{"x":423,"t":60,"p":44,"g":62,"a":45,"v":46,"m":58},
{"x":424,"t":35,"p":40,"g":40,"a":44,"v":44,"m":33},
{"x":425,"t":55,"p":62,"g":58,"a":45,"v":45,"m":57},
{"x":426,"t":70,"p":56,"g":72,"a":46,"v":47,"m":72},
{"x":427,"t":45,"p":50,"g":50,"a":44,"v":45,"m":43},
{"x":428,"t":60,"p":52,"g":62,"a":45,"v":46,"m":58},
{"x":429,"t":70,"p":64,"g":72,"a":46,"v":47,"m":72},
{"x":430,"t":80,"p":66,"g":78,"a":47,"v":48,"m":82},
{"x":431,"t":65,"p":48,"g":68,"a":45,"v":46,"m":63},
{"x":432,"t":45,"p":44,"g":50,"a":44,"v":45,"m":43},
{"x":433,"t":55,"p":58,"g":58,"a":45,"v":45,"m":57},
{"x":434,"t":70,"p":60,"g":72,"a":46,"v":47,"m":72},
{"x":435,"t":50,"p":66,"g":55,"a":45,"v":45,"m":48},
{"x":436,"t":65,"p":54,"g":68,"a":45,"v":46,"m":63},
{"x":437,"t":55,"p":50,"g":58,"a":45,"v":46,"m":57},
{"x":438,"t":80,"p":68,"g":78,"a":47,"v":48,"m":78},
{"x":439,"t":65,"p":60,"g":68,"a":45,"v":46,"m":63},
{"x":440,"t":40,"p":42,"g":45,"a":44,"v":45,"m":42},
{"x":441,"t":70,"p":46,"g":72,"a":46,"v":47,"m":72},
{"x":442,"t":55,"p":50,"g":58,"a":45,"v":46,"m":53},
{"x":443,"t":40,"p":54,"g":45,"a":44,"v":44,"m":38},
{"x":444,"t":20,"p":25,"g":25,"a":42,"v":43,"m":22},
{"x":445,"t":45,"p":36,"g":50,"a":44,"v":45,"m":47},
{"x":446,"t":60,"p":52,"g":62,"a":45,"v":46,"m":58},
{"x":447,"t":50,"p":58,"g":55,"a":45,"v":45,"m":48},
{"x":448,"t":35,"p":38,"g":40,"a":43,"v":44,"m":37},
{"x":449,"t":45,"p":30,"g":50,"a":44,"v":45,"m":43},
{"x":450,"t":15,"p":20,"g":20,"a":42,"v":43,"m":13},
{"x":451,"t":35,"p":48,"g":40,"a":43,"v":44,"m":37},
{"x":452,"t":50,"p":46,"g":55,"a":45,"v":45,"m":52},
{"x":453,"t":60,"p":40,"g":62,"a":45,"v":46,"m":58},
{"x":454,"t":30,"p":34,"g":35,"a":43,"v":44,"m":28},
{"x":455,"t":45,"p":56,"g":50,"a":44,"v":45,"m":47},
{"x":456,"t":60,"p":52,"g":62,"a":45,"v":46,"m":62},
{"x":457,"t":40,"p":44,"g":45,"a":44,"v":44,"m":38},
{"x":458,"t":25,"p":30,"g":30,"a":43,"v":44,"m":27},
{"x":459,"t":45,"p":50,"g":50,"a":44,"v":45,"m":43},
{"x":460,"t":5,"p":15,"g":10,"a":41,"v":42,"m":3},
{"x":461,"t":30,"p":22,"g":35,"a":43,"v":44,"m":28},
{"x":462,"t":60,"p":52,"g":62,"a":45,"v":46,"m":58},
{"x":463,"t":45,"p":56,"g":50,"a":44,"v":45,"m":47},
{"x":464,"t":70,"p":58,"g":72,"a":46,"v":47,"m":72},
{"x":465,"t":90,"p":64,"g":85,"a":47,"v":48,"m":88},
{"x":466,"t":134,"p":75,"g":115,"a":50,"v":52,"m":125},
{"x":467,"t":100,"p":70,"g":90,"a":48,"v":50,"m":95},
{"x":468,"t":60,"p":50,"g":62,"a":45,"v":46,"m":62},
{"x":469,"t":75,"p":54,"g":78,"a":46,"v":47,"m":73},
{"x":470,"t":95,"p":68,"g":85,"a":47,"v":48,"m":92},
{"x":471,"t":80,"p":66,"g":78,"a":46,"v":48,"m":82},
{"x":472,"t":55,"p":48,"g":58,"a":45,"v":45,"m":53},
{"x":473,"t":65,"p":50,"g":68,"a":45,"v":46,"m":63},
{"x":474,"t":80,"p":62,"g":78,"a":46,"v":47,"m":82},
{"x":475,"t":60,"p":58,"g":62,"a":45,"v":46,"m":62},
{"x":476,"t":45,"p":40,"g":50,"a":44,"v":44,"m":43},
{"x":477,"t":50,"p":44,"g":30,"a":45,"v":45,"m":20},
{"x":478,"t":20,"p":28,"g":-15,"a":43,"v":44,"m":-5},
{"x":479,"t":40,"p":36,"g":45,"a":44,"v":44,"m":38},
{"x":480,"t":70,"p":58,"g":72,"a":46,"v":47,"m":68},
{"x":481,"t":85,"p":62,"g":80,"a":46,"v":48,"m":83},
{"x":482,"t":60,"p":50,"g":62,"a":45,"v":46,"m":58},
{"x":483,"t":75,"p":56,"g":72,"a":46,"v":47,"m":73},
{"x":484,"t":110,"p":70,"g":95,"a":48,"v":50,"m":100},
{"x":485,"t":90,"p":68,"g":85,"a":47,"v":48,"m":88},
{"x":486,"t":134,"p":75,"g":90,"a":49,"v":51,"m":120},
{"x":487,"t":100,"p":72,"g":90,"a":48,"v":50,"m":95},
{"x":488,"t":80,"p":60,"g":78,"a":46,"v":47,"m":82},
{"x":489,"t":60,"p":50,"g":62,"a":45,"v":46,"m":62},
{"x":490,"t":100,"p":66,"g":85,"a":47,"v":49,"m":95},
{"x":491,"t":70,"p":58,"g":72,"a":46,"v":47,"m":68},
{"x":492,"t":45,"p":42,"g":50,"a":44,"v":45,"m":47},
{"x":493,"t":65,"p":46,"g":68,"a":45,"v":46,"m":63},
{"x":494,"t":95,"p":62,"g":80,"a":47,"v":48,"m":90},
{"x":495,"t":70,"p":60,"g":72,"a":46,"v":47,"m":68},
{"x":496,"t":40,"p":38,"g":45,"a":44,"v":44,"m":42},
{"x":497,"t":55,"p":42,"g":58,"a":45,"v":45,"m":53},
{"x":498,"t":48,"p":45,"g":50,"a":45,"v":46,"m":50},
{"x":499,"t":50,"p":46,"g":52,"a":45,"v":46,"m":50}
]},
"vconcat": [
{
 "width": 531, "height": 152,
 "data": {"name": "d"},
 "transform": [{"fold": ["t", "p"], "as": ["k", "val"]}],
 "layer": [
  {"mark": {"type": "line", "strokeWidth": 1.6, "clip": true},
   "encoding": {
    "x": {"field": "x", "type": "quantitative", "scale": {"domain": [-24, 520], "nice": false, "zero": false}, "axis": {"values": [0, 100, 200, 300, 400, 500], "title": "样本"}},
    "y": {"field": "val", "type": "quantitative", "scale": {"domain": [-35, 267], "nice": false, "zero": false}, "axis": {"values": [0, 50, 100, 150, 200, 250], "title": "Y"}},
    "color": {"field": "k", "type": "nominal", "scale": {"domain": ["t", "p"], "range": ["#2a4b9b", "#e8332f"]}, "legend": {"title": null, "labelExpr": "datum.value == 't' ? '真实值' : 'PLS 预测值\u00a0\u00a0'", "legendX": 340, "legendY": 6}},
    "strokeDash": {"field": "k", "type": "nominal", "scale": {"domain": ["t", "p"], "range": [[1, 0], [6.5, 3]]}, "legend": {"title": null, "labelExpr": "datum.value == 't' ? '真实值' : 'PLS 预测值\u00a0\u00a0'", "legendX": 340, "legendY": 6}}
   }},
  {"mark": {"type": "point", "opacity": 0},
   "encoding": {"x": {"field": "x", "type": "quantitative", "axis": {"orient": "top", "labels": false, "ticks": false, "title": null}}}}
 ],
 "resolve": {"axis": {"x": "independent"}}
},
{
 "width": 531, "height": 152,
 "data": {"name": "d"},
 "transform": [{"fold": ["t", "g"], "as": ["k", "val"]}],
 "layer": [
  {"mark": {"type": "line", "strokeWidth": 1.6, "clip": true},
   "encoding": {
    "x": {"field": "x", "type": "quantitative", "scale": {"domain": [-24, 520], "nice": false, "zero": false}, "axis": {"values": [0, 100, 200, 300, 400, 500], "title": "样本"}},
    "y": {"field": "val", "type": "quantitative", "scale": {"domain": [-58, 268], "nice": false, "zero": false}, "axis": {"values": [0, 100, 200], "title": "Y"}},
    "color": {"field": "k", "type": "nominal", "scale": {"domain": ["t", "g"], "range": ["#2a4b9b", "#e8332f"]}, "legend": {"title": null, "labelExpr": "datum.value == 't' ? '真实值' : 'GMR 预测值'", "legendX": 340, "legendY": 6}},
    "strokeDash": {"field": "k", "type": "nominal", "scale": {"domain": ["t", "g"], "range": [[1, 0], [6.5, 3]]}, "legend": {"title": null, "labelExpr": "datum.value == 't' ? '真实值' : 'GMR 预测值'", "legendX": 340, "legendY": 6}}
   }},
  {"mark": {"type": "point", "opacity": 0},
   "encoding": {"x": {"field": "x", "type": "quantitative", "axis": {"orient": "top", "labels": false, "ticks": false, "title": null}}}}
 ],
 "resolve": {"axis": {"x": "independent"}}
},
{
 "width": 531, "height": 152,
 "data": {"name": "d"},
 "transform": [{"fold": ["t", "a"], "as": ["k", "val"]}],
 "layer": [
  {"mark": {"type": "line", "strokeWidth": 1.6, "clip": true},
   "encoding": {
    "x": {"field": "x", "type": "quantitative", "scale": {"domain": [-24, 520], "nice": false, "zero": false}, "axis": {"values": [0, 100, 200, 300, 400, 500], "title": "样本"}},
    "y": {"field": "val", "type": "quantitative", "scale": {"domain": [-34.5, 267], "nice": false, "zero": false}, "axis": {"values": [0, 50, 100, 150, 200, 250], "title": "Y"}},
    "color": {"field": "k", "type": "nominal", "scale": {"domain": ["t", "a"], "range": ["#2a4b9b", "#e8332f"]}, "legend": {"title": null, "labelExpr": "datum.value == 't' ? '真实值' : 'AE 预测值\u00a0\u00a0'", "legendX": 340, "legendY": 6}},
    "strokeDash": {"field": "k", "type": "nominal", "scale": {"domain": ["t", "a"], "range": [[1, 0], [6.5, 3]]}, "legend": {"title": null, "labelExpr": "datum.value == 't' ? '真实值' : 'AE 预测值\u00a0\u00a0'", "legendX": 340, "legendY": 6}}
   }},
  {"mark": {"type": "point", "opacity": 0},
   "encoding": {"x": {"field": "x", "type": "quantitative", "axis": {"orient": "top", "labels": false, "ticks": false, "title": null}}}}
 ],
 "resolve": {"axis": {"x": "independent"}}
},
{
 "width": 531, "height": 152,
 "data": {"name": "d"},
 "transform": [{"fold": ["t", "v"], "as": ["k", "val"]}],
 "layer": [
  {"mark": {"type": "line", "strokeWidth": 1.6, "clip": true},
   "encoding": {
    "x": {"field": "x", "type": "quantitative", "scale": {"domain": [-24, 520], "nice": false, "zero": false}, "axis": {"values": [0, 100, 200, 300, 400, 500], "title": "样本"}},
    "y": {"field": "val", "type": "quantitative", "scale": {"domain": [-33, 268.5], "nice": false, "zero": false}, "axis": {"values": [0, 50, 100, 150, 200, 250], "title": "Y"}},
    "color": {"field": "k", "type": "nominal", "scale": {"domain": ["t", "v"], "range": ["#2a4b9b", "#e8332f"]}, "legend": {"title": null, "labelExpr": "datum.value == 't' ? '真实值' : 'VAE 预测值\u00a0'", "legendX": 340, "legendY": 6}},
    "strokeDash": {"field": "k", "type": "nominal", "scale": {"domain": ["t", "v"], "range": [[1, 0], [6.5, 3]]}, "legend": {"title": null, "labelExpr": "datum.value == 't' ? '真实值' : 'VAE 预测值\u00a0'", "legendX": 340, "legendY": 6}}
   }},
  {"mark": {"type": "point", "opacity": 0},
   "encoding": {"x": {"field": "x", "type": "quantitative", "axis": {"orient": "top", "labels": false, "ticks": false, "title": null}}}}
 ],
 "resolve": {"axis": {"x": "independent"}}
},
{
 "width": 531, "height": 152,
 "data": {"name": "d"},
 "transform": [{"fold": ["t", "m"], "as": ["k", "val"]}],
 "layer": [
  {"mark": {"type": "line", "strokeWidth": 1.6, "clip": true},
   "encoding": {
    "x": {"field": "x", "type": "quantitative", "scale": {"domain": [-24, 520], "nice": false, "zero": false}, "axis": {"values": [0, 100, 200, 300, 400, 500], "title": "样本"}},
    "y": {"field": "val", "type": "quantitative", "scale": {"domain": [-35, 268.5], "nice": false, "zero": false}, "axis": {"values": [0, 50, 100, 150, 200, 250], "title": "Y"}},
    "color": {"field": "k", "type": "nominal", "scale": {"domain": ["t", "m"], "range": ["#2a4b9b", "#e8332f"]}, "legend": {"title": null, "labelFontSize": 18, "padding": 6, "labelExpr": "datum.value == 't' ? '真实值' : 'MVAER 预测值'", "legendX": 337, "legendY": 6}},
    "strokeDash": {"field": "k", "type": "nominal", "scale": {"domain": ["t", "m"], "range": [[1, 0], [6.5, 3]]}, "legend": {"title": null, "labelFontSize": 18, "padding": 6, "labelExpr": "datum.value == 't' ? '真实值' : 'MVAER 预测值'", "legendX": 337, "legendY": 6}}
   }},
  {"mark": {"type": "point", "opacity": 0},
   "encoding": {"x": {"field": "x", "type": "quantitative", "axis": {"orient": "top", "labels": false, "ticks": false, "title": null}}}}
 ],
 "resolve": {"axis": {"x": "independent"}}
}
]
}
